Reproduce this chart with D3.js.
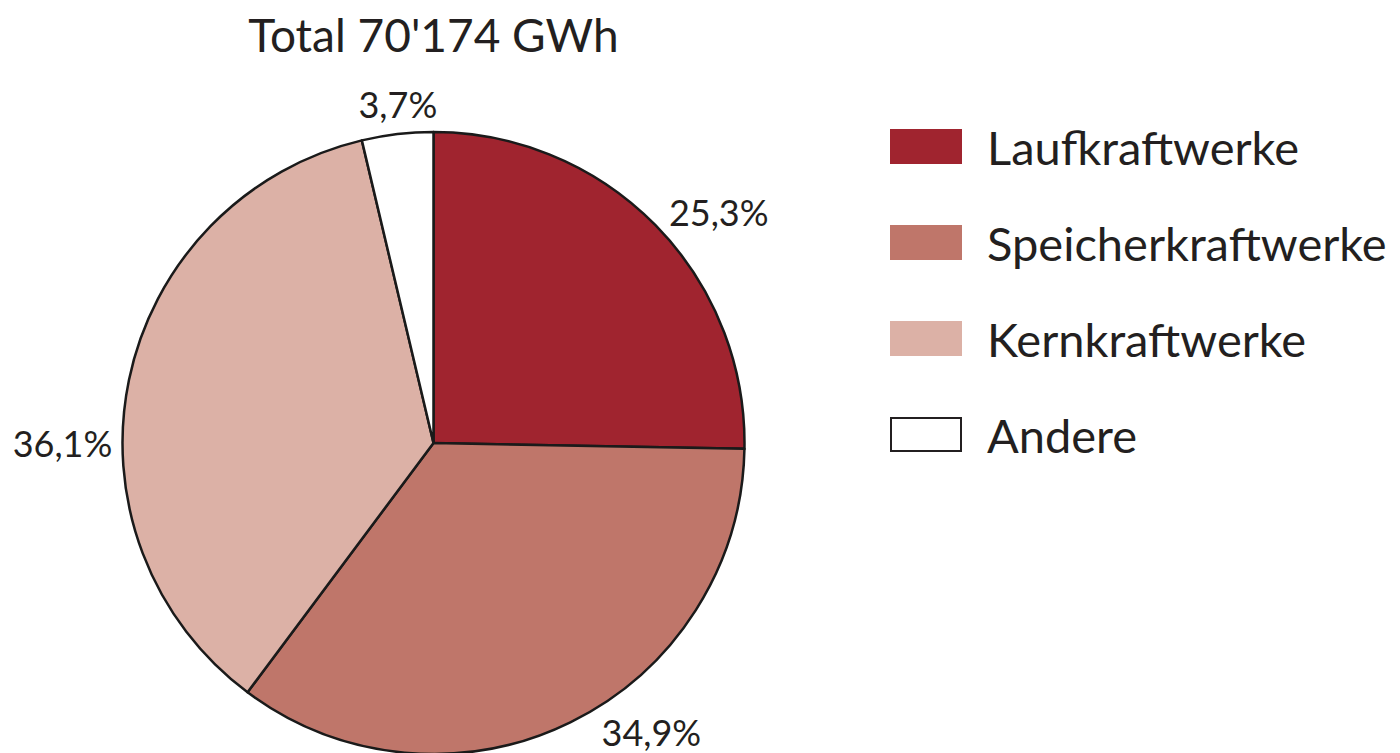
<!DOCTYPE html>
<html>
  <head>
    <script src="https://d3js.org/d3.v7.min.js"></script>
    <style>
      body { margin: 0; background: #fff; }
      text { font-family: Lato, "Noto Sans", sans-serif; fill: #231f20; }
    </style>
  </head>
  <body>
    <svg id="chart" width="1400" height="753"></svg>
    <script>
      // data
      const categories = ["Laufkraftwerke", "Speicherkraftwerke", "Kernkraftwerke", "Andere"];
      const shares = [25.3, 34.9, 36.1, 3.7];
      const shareLabels = ["25,3%", "34,9%", "36,1%", "3,7%"];
      const colors = ["#a0242f", "#bf766a", "#dcb1a6", "#ffffff"];
      const title = "Total 70'174 GWh";

      const svg = d3.select("#chart");
      const cx = 433.5, cy = 443, radius = 311;

      svg.append("text")
        .attr("x", cx)
        .attr("y", 52)
        .attr("text-anchor", "middle")
        .style("font-size", "46px")
        .text(title);

      const data = categories.map((c, i) => ({cat: c, value: shares[i], label: shareLabels[i], color: colors[i]}));
      const pie = d3.pie().sort(null).value(d => d.value);
      const arc = d3.arc().innerRadius(0).outerRadius(radius);

      const g = svg.append("g").attr("transform", `translate(${cx},${cy})`);
      const arcs = pie(data);

      g.selectAll("path.slice").data(arcs)
        .join("path")
        .attr("class", "slice")
        .attr("d", arc)
        .attr("fill", d => d.data.color)
        .attr("stroke", "#1a1a1a")
        .attr("stroke-width", 2.5)
        .attr("stroke-linejoin", "round");

      // label placement (angle in degrees from 12 o'clock, distance from centre)
      const labelPlace = {
        "Laufkraftwerke": [51, 367],
        "Speicherkraftwerke": [143, 362],
        "Kernkraftwerke": [270, 371],
        "Andere": [354, 341]
      };
      g.selectAll("text.pct").data(arcs)
        .join("text")
        .attr("class", "pct")
        .attr("transform", d => {
          const p = labelPlace[d.data.cat];
          const pt = d3.pointRadial(p[0] * Math.PI / 180, p[1]);
          return `translate(${pt[0]},${pt[1]})`;
        })
        .attr("text-anchor", "middle")
        .attr("dominant-baseline", "central")
        .style("font-size", "36px")
        .text(d => d.data.label);

      // legend
      const legend = svg.append("g").attr("transform", "translate(890,129)");
      const rowY = d3.scaleBand().domain(categories).range([0, 384]).paddingInner(0);
      const rows = legend.selectAll("g.row").data(data)
        .join("g")
        .attr("class", "row")
        .attr("transform", d => `translate(0,${rowY(d.cat)})`);
      rows.append("rect")
        .attr("x", d => d.color === "#ffffff" ? 1 : 0)
        .attr("y", d => d.color === "#ffffff" ? 1 : 0)
        .attr("width", d => d.color === "#ffffff" ? 70 : 72)
        .attr("height", d => d.color === "#ffffff" ? 33 : 35)
        .attr("fill", d => d.color)
        .attr("stroke", d => d.color === "#ffffff" ? "#231f20" : "none")
        .attr("stroke-width", 2);
      rows.append("text")
        .attr("x", 97)
        .attr("y", 17.5)
        .attr("dominant-baseline", "central")
        .style("font-size", "47px")
        .text(d => d.cat);
    </script>
  </body>
</html>
